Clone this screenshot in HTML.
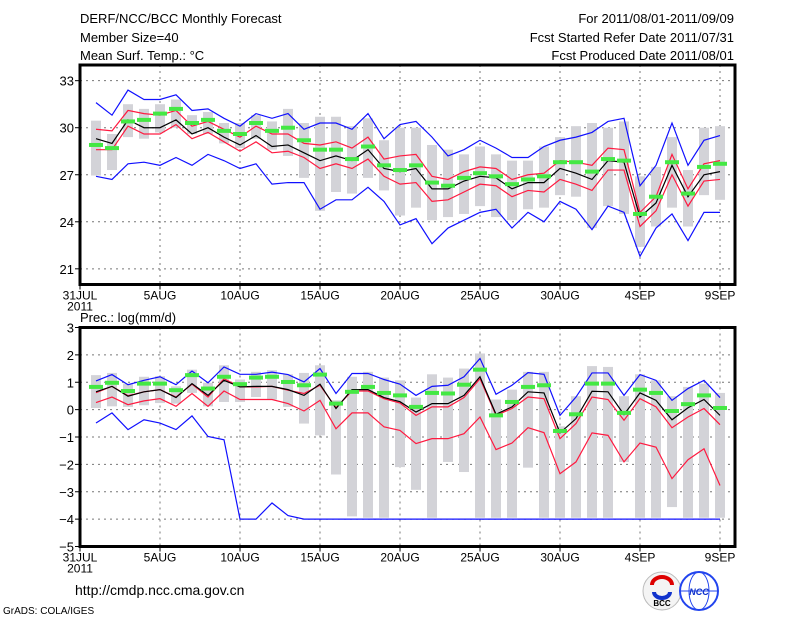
<!DOCTYPE html>
<html><head><meta charset="utf-8">
<style>
body{margin:0;background:#fff;}
#wrap{position:relative;width:800px;height:618px;overflow:hidden;font-family:"Liberation Sans",sans-serif;}
svg text{font-family:"Liberation Sans",sans-serif;}
</style></head>
<body>
<div id="wrap">
<svg id="svg" width="800" height="618" xmlns="http://www.w3.org/2000/svg">
<g font-size="13" fill="#000">
<text x="80" y="23">DERF/NCC/BCC Monthly Forecast</text>
<text x="80" y="42">Member Size=40</text>
<text x="80" y="60">Mean Surf. Temp.: °C</text>
<text x="734" y="23" text-anchor="end">For 2011/08/01-2011/09/09</text>
<text x="734" y="42" text-anchor="end">Fcst Started Refer Date 2011/07/31</text>
<text x="734" y="60" text-anchor="end">Fcst Produced Date 2011/08/01</text>
<text x="80" y="322">Prec.: log(mm/d)</text>
<text x="75" y="595" font-size="14">http://cmdp.ncc.cma.gov.cn</text>
<text x="3" y="614" font-size="10">GrADS: COLA/IGES</text>
</g>
<g>
<circle cx="662" cy="591" r="19" fill="#f4f4f4" stroke="#bbb"/>
<path d="M652 585 a10 8 0 0 1 20 0" fill="none" stroke="#d00" stroke-width="4"/>
<path d="M654 592 a8 6 0 0 0 16 0" fill="none" stroke="#1133cc" stroke-width="4"/>
<text x="662" y="606" font-size="8" text-anchor="middle" font-weight="bold">BCC</text>
</g>
<g>
<circle cx="699" cy="591" r="19" fill="#fff" stroke="#2244ee" stroke-width="2"/>
<ellipse cx="699" cy="591" rx="10" ry="19" fill="none" stroke="#2244ee"/>
<line x1="680" y1="591" x2="718" y2="591" stroke="#2244ee"/>
<text x="699" y="595" font-size="9" text-anchor="middle" fill="#1133cc" font-style="italic" font-weight="bold">NCC</text>
</g>
<g id="plots"></g>
</svg>
</div>
<script>
// ---- Temperature panel data (Aug 1 .. Sep 9) ----
const tGreen=[28.9,28.7,30.4,30.5,30.9,31.2,30.3,30.5,29.8,29.6,30.3,29.8,30.0,29.2,28.6,28.6,28.0,28.8,27.6,27.3,27.6,26.5,26.3,26.8,27.1,26.9,26.4,26.7,26.9,27.8,27.8,27.2,28.0,27.9,24.5,25.6,27.8,25.8,27.5,27.7];
const tMean=[29.3,29.0,30.5,30.0,30.0,30.5,29.6,30.0,29.4,28.9,29.5,28.8,28.9,28.4,27.9,28.2,27.9,28.6,27.4,27.2,27.4,26.1,26.1,26.6,26.9,26.8,26.1,26.5,26.5,27.4,27.1,26.7,27.9,27.8,24.3,25.2,27.6,25.6,27.0,27.2];
const tRedHi=[29.9,29.8,31.1,30.9,30.8,31.1,30.1,30.4,29.9,29.4,30.1,29.6,29.6,29.0,28.9,29.1,28.7,29.4,28.0,28.2,28.3,26.9,26.7,27.2,27.5,27.4,26.7,27.0,27.1,27.9,27.8,27.6,28.7,28.6,24.6,25.6,28.3,26.1,27.7,27.9];
const tRedLo=[28.6,28.6,30.1,29.6,29.6,30.2,29.3,29.7,29.1,28.5,29.1,28.4,28.5,28.1,27.4,27.7,27.4,28.0,26.9,26.4,26.5,25.3,25.4,25.9,26.4,26.3,25.6,26.0,25.9,26.7,26.4,26.0,27.3,27.3,23.7,24.7,27.0,25.0,26.6,26.7];
const tBlueHi=[31.6,30.8,32.4,31.8,31.8,32.1,31.1,31.2,30.6,30.1,30.9,30.6,30.9,29.9,30.3,30.3,29.9,30.9,29.3,30.2,30.4,29.4,28.2,28.6,29.2,28.7,28.1,28.1,28.8,29.2,29.4,29.7,30.4,30.6,26.3,27.6,30.3,27.6,29.2,29.5];
const tBlueLo=[26.9,26.7,27.7,27.8,27.6,28.1,27.6,28.3,27.9,27.4,27.7,26.4,26.5,26.5,24.8,25.4,25.4,26.2,25.3,23.8,24.2,22.6,23.6,24.1,24.6,24.8,23.6,24.6,24.0,25.3,24.8,23.5,25.0,24.6,21.8,23.6,24.5,22.8,24.6,24.6];
const tBarHi=[30.45,29.6,31.5,31.2,31.5,31.8,30.8,31.0,30.3,30.3,30.8,30.4,31.2,30.3,30.7,30.7,30.1,30.6,29.2,30.0,30.0,28.9,28.6,28.3,28.8,28.3,27.9,27.9,28.8,29.4,30.1,30.3,30.0,30.4,26.9,27.5,29.4,27.3,30.0,30.1];
const tBarLo=[26.95,27.3,29.4,29.3,29.7,30.0,29.6,29.6,29.0,28.7,29.3,28.6,28.2,26.8,24.7,25.9,25.8,26.8,26.0,24.4,24.9,24.1,24.3,24.5,25.0,24.3,24.1,24.8,24.9,25.7,25.6,23.6,25.0,24.5,22.4,23.7,24.9,23.7,25.7,25.4];
const tTicks=[21,24,27,30,33];
// ---- Precipitation panel data ----
const pGreen=[0.83,0.98,0.68,0.95,0.95,0.71,1.26,0.77,1.2,0.93,1.17,1.2,1.01,0.89,1.28,0.22,0.65,0.83,0.61,0.52,0.1,0.61,0.59,0.91,1.46,-0.21,0.28,0.83,0.89,-0.78,-0.17,0.95,0.95,-0.12,0.73,0.61,-0.05,0.2,0.52,0.06];
const pMean=[0.65,0.85,0.49,0.65,0.73,0.44,0.95,0.52,1.07,0.83,0.85,0.85,0.73,0.52,0.93,0.04,0.73,0.73,0.44,0.29,-0.09,0.22,0.22,0.52,1.2,-0.17,0.1,0.65,0.61,-0.85,-0.33,0.67,0.65,-0.18,0.61,0.34,-0.37,0.07,0.37,-0.21];
const pRedHi=[0.62,0.85,0.51,0.65,0.73,0.46,0.93,0.46,1.13,0.83,0.83,0.85,0.71,0.59,0.89,0.07,0.68,0.68,0.4,0.24,-0.21,0.1,0.1,0.44,1.13,-0.21,0.04,0.46,0.4,-1.06,-0.51,0.46,0.37,-0.39,0.4,0.1,-0.66,-0.27,0.04,-0.55];
const pRedLo=[0.26,0.46,0.18,0.32,0.4,0.12,0.59,0.12,0.68,0.37,0.37,0.37,0.22,-0.05,0.34,-0.7,-0.12,-0.12,-0.63,-0.76,-1.24,-1.06,-1.06,-0.88,-0.27,-1.46,-1.22,-0.66,-0.84,-2.34,-1.91,-0.85,-0.94,-1.91,-1.22,-1.37,-2.52,-1.83,-1.43,-2.77];
const pBlueHi=[1.05,1.28,0.91,1.07,1.2,0.91,1.41,0.98,1.56,1.29,1.29,1.37,1.28,1.01,1.5,0.59,1.32,1.32,1.1,0.93,0.52,0.85,0.89,1.2,1.87,0.56,0.89,1.35,1.29,-0.21,0.46,1.34,1.34,0.52,1.28,1.07,0.34,0.77,1.07,0.44];
const pBlueLo=[-0.49,-0.12,-0.73,-0.37,-0.49,-0.73,-0.23,-0.98,-1.1,-4,-4,-3.41,-3.87,-4,-4,-4,-4,-4,-4,-4,-4,-4,-4,-4,-4,-4,-4,-4,-4,-4,-4,-4,-4,-4,-4,-4,-4,-4,-4,-4];
const pBarHi=[1.26,1.34,0.95,1.2,1.22,0.85,1.46,0.98,1.62,1.1,1.38,1.44,1.29,1.34,1.62,0.34,1.2,1.38,1.17,1.07,0.44,1.29,1.17,1.5,2.05,0.37,0.73,1.38,1.38,-0.61,0.49,1.59,1.56,0.49,1.29,1.07,0.49,0.83,0.95,0.61];
const pBarLo=[0.06,0.12,0.1,0.16,0.24,0.22,0.61,0.12,0.28,0.28,0.46,0.37,0.1,-0.51,-0.94,-2.37,-3.9,-3.95,-3.95,-2.1,-2.93,-3.95,-1.91,-2.28,-3.95,-3.95,-3.95,-2.12,-3.95,-3.95,-3.95,-3.95,-3.95,-1.91,-3.95,-3.95,-3.56,-3.95,-3.95,-3.95];
const pTicks=[3,2,1,0,-1,-2,-3,-4,-5];
const xLabels=['31JUL','5AUG','10AUG','15AUG','20AUG','25AUG','30AUG','4SEP','9SEP'];

const NS='http://www.w3.org/2000/svg';
const g=document.getElementById('plots');
function mk(tag,attrs,parent){const e=document.createElementNS(NS,tag);for(const k in attrs)e.setAttribute(k,attrs[k]);(parent||g).appendChild(e);return e;}
const X0=80,X1=735;
function xDay(d){return X0+16*d;} // d=0 -> 31 JUL

function panel(top,bot,vmin,vmax,ticks,S,name){
  const y=v=>bot-(v-vmin)/(vmax-vmin)*(bot-top);
  const grp=mk('g',{});
  
  
  // grid
  ticks.forEach(t=>{
    const l=mk('line',{x1:X0,x2:X1,y1:y(t),y2:y(t),stroke:'#777','stroke-dasharray':'2,4','stroke-width':1},grp);
    
    
    mk('line',{x1:X0-5,x2:X0,y1:y(t),y2:y(t),stroke:'#000'},grp);
    const tx=mk('text',{x:X0-6,y:y(t)+5,'text-anchor':'end','font-size':13},grp);
    tx.textContent=String(t).replace('-','\u2212');
    
    
  });
  xLabels.forEach((lab,i)=>{
    const xx=xDay(i*5);
    const l=mk('line',{x1:xx,x2:xx,y1:top,y2:bot,stroke:'#777','stroke-dasharray':'2,4'},grp);
    
    
    mk('line',{x1:xx,x2:xx,y1:bot,y2:bot+5,stroke:'#000'},grp);
    const tx=mk('text',{x:xx,y:bot+15,'text-anchor':'middle','font-size':12},grp);
    tx.textContent=lab;
    
    
  });
  const yr=mk('text',{x:X0,y:bot+26,'text-anchor':'middle','font-size':12},grp);
  yr.textContent='2011';
  
  
  // bars
  S.barHi.forEach((hi,i)=>{
    const lo=S.barLo[i];
    const b=mk('rect',{x:xDay(i+1)-5,y:y(hi),width:10,height:Math.max(1,y(lo)-y(hi)),fill:'#d3d3d8'},grp);
    
    
  });
  function line(arr,col,nm){
    const p=mk('polyline',{points:arr.map((v,i)=>xDay(i+1)+','+y(v)).join(' '),fill:'none',stroke:col,'stroke-width':1.2},grp);
    
    
  }
  line(S.blueHi,'#1010ff','max-line');
  line(S.blueLo,'#1010ff','min-line');
  line(S.redHi,'#ff1a40','upper-spread-line');
  line(S.redLo,'#ff1a40','lower-spread-line');
  line(S.mean,'#000','ensemble-mean-line');
  S.green.forEach((v,i)=>{
    const r=mk('rect',{x:xDay(i+1)-7,y:y(v)-2,width:14,height:4,fill:'#44e844'},grp);
    
    
  });
  const f=mk('rect',{x:X0,y:top,width:X1-X0,height:bot-top,fill:'none',stroke:'#000','stroke-width':3},grp);
  
  
}
panel(65,284.5,20,34,tTicks,{green:tGreen,mean:tMean,redHi:tRedHi,redLo:tRedLo,blueHi:tBlueHi,blueLo:tBlueLo,barHi:tBarHi,barLo:tBarLo},'temperature-panel');
panel(327.5,546.5,-5,3,pTicks,{green:pGreen,mean:pMean,redHi:pRedHi,redLo:pRedLo,blueHi:pBlueHi,blueLo:pBlueLo,barHi:pBarHi,barLo:pBarLo},'precipitation-panel');
</script>
</body></html>
